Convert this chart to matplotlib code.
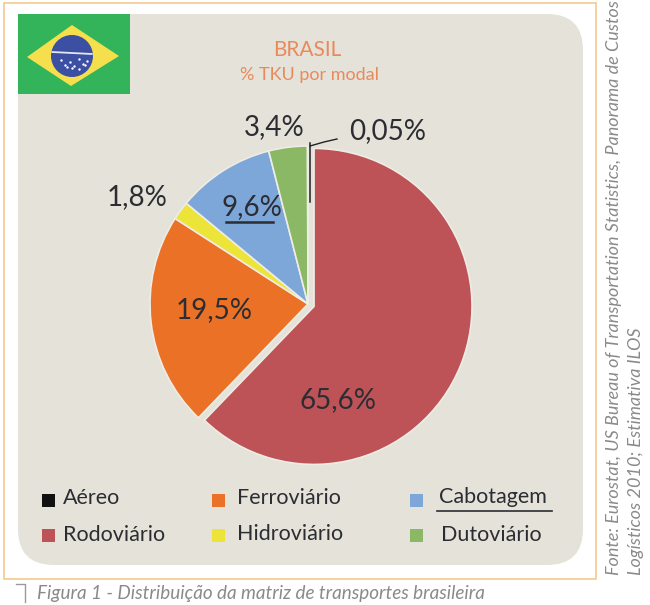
import matplotlib
matplotlib.use("Agg")
import matplotlib.pyplot as plt
from matplotlib.patches import FancyBboxPatch, Rectangle, Polygon, Circle

plt.rcParams['font.family'] = ['Lato', 'DejaVu Sans']

# Slices in clockwise order from the top
modes = ["Rodoviário", "Ferroviário", "Hidroviário", "Cabotagem", "Dutoviário", "Aéreo"]
# Printed percentages
labels = ["65,6%", "19,5%", "1,8%", "9,6%", "3,4%", "0,05%"]
# Shares as the slices are actually drawn in the picture (sweep)
drawn_share = [62.2, 21.9, 1.9, 10.0, 3.95, 0.05]
colors = ["#bd5257", "#ea7125", "#ede43a", "#7da7d9", "#8ab865", "#111111"]

W, H = 650, 605
fig = plt.figure(figsize=(W / 100, H / 100), dpi=100, facecolor="white")
ax = fig.add_axes([0, 0, 1, 1])
ax.set_xlim(0, W)
ax.set_ylim(H, 0)
ax.axis("off")

ink = "#2b2d33"
# frame and panel
ax.add_patch(Rectangle((4, 3), 592, 576, fill=False, ec="#f3cf96", lw=1.3))
ax.add_patch(FancyBboxPatch((18 + 36, 14 + 36), 565 - 72, 551 - 72,
                            boxstyle="round,pad=36,rounding_size=36",
                            fc="#e4e2d9", ec="none"))

# flag
ax.add_patch(Rectangle((18, 14), 112, 80, fc="#33b45a", ec="none"))
ax.add_patch(Polygon([(27, 57), (72, 25), (119, 56), (71, 86)], fc="#f5df4d", ec="none"))
ax.add_patch(Circle((72, 56), 21, fc="#3b4fa3", ec="none"))
ax.plot([52, 92], [52, 54], color="#e6e6f0", lw=1.3, solid_capstyle="round")
ax.scatter([61, 70, 79, 87, 65, 74, 83, 67, 72, 79, 85],
           [60, 62, 59, 61, 65, 66, 64, 67, 68, 69, 65], s=3, c="white", lw=0)

# pie (y axis is inverted, so counterclock=True runs clockwise on screen)
wedges, _ = ax.pie(drawn_share, colors=colors, explode=[6.5, 0, 0, 0, 0, 0],
                   center=(308, 304), radius=158, startangle=-90, counterclock=True,
                   frame=True, wedgeprops=dict(edgecolor="#eeece4", linewidth=1.2))
ax.set_xlim(0, W)
ax.set_ylim(H, 0)
ax.set_aspect("auto")
ax.axis("off")

# leader for the Aéreo slice
ax.plot([310, 310], [143, 202], color="#222222", lw=1.1)
ax.plot([310, 324, 337], [146, 142, 139], color="#222222", lw=1.0)

# value labels
label_xy = [(338, 400), (214, 310), (137, 197), (252, 207), (274, 127), (388, 131)]
for text, (x, y) in zip(labels, label_xy):
    ax.text(x, y, text, fontsize=20, color=ink, ha="center", va="center")
ax.plot([226, 273], [222, 222], color=ink, lw=1.8)

# title
ax.text(307, 50, "BRASIL", fontsize=15, color="#e98a5c", ha="center", va="center")
ax.text(309, 75, "% TKU por modal", fontsize=13, color="#e98a5c", ha="center", va="center")

# legend
legend_order = [0, 5, 1, 2, 3, 4]
legend_sq = [(48, 535), (48, 500), (218, 500), (218, 535), (416, 500), (416, 535)]
legend_tx = [(63, 535), (63, 498), (237, 498), (237, 534), (439, 497), (441, 535)]
for i, (sx, sy), (tx, ty) in zip(legend_order, legend_sq, legend_tx):
    ax.add_patch(Rectangle((sx - 6.5, sy - 6.5), 13, 13, fc=colors[i], ec="none"))
    ax.text(tx, ty, modes[i], fontsize=15.5, color=ink, ha="left", va="center")
ax.plot([437, 552], [511, 511], color=ink, lw=1.2)

# source and caption
ax.text(614, 575, "Fonte: Eurostat, US Bureau of Transportation Statistics, Panorama de Custos",
        rotation=90, style="italic", fontsize=12.95, color="#8a8a8a", ha="center", va="bottom")
ax.text(636, 575, "Logísticos 2010; Estimativa ILOS",
        rotation=90, style="italic", fontsize=12.95, color="#8a8a8a", ha="center", va="bottom")
ax.plot([16, 25, 25], [584, 584, 602], color="#9a9a9a", lw=1.0)
ax.text(37, 594, "Figura 1 - Distribuição da matriz de transportes brasileira",
        style="italic", fontsize=13.6, color="#8a8a8a", ha="left", va="center")

fig.savefig("out.png", dpi=100, facecolor="white")
